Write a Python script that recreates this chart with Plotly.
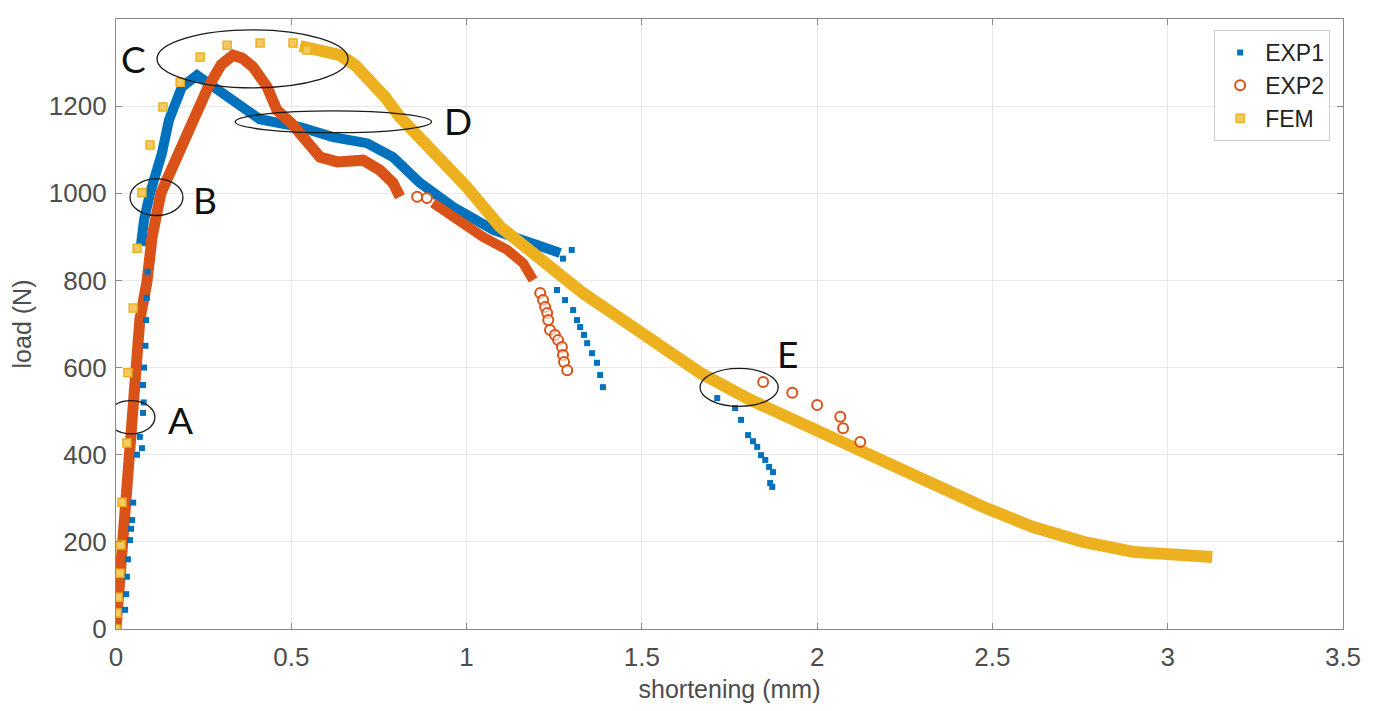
import plotly.graph_objects as go

# ---------------- data ----------------
# EXP1 - dense part (thick band of markers)
exp1_x = [0.071, 0.080, 0.097, 0.120, 0.131, 0.151, 0.188, 0.231, 0.280, 0.334, 0.410, 0.525,
          0.619, 0.716, 0.790, 0.867, 0.961, 1.076, 1.190, 1.240, 1.267]
exp1_y = [880, 939, 1000, 1053, 1092, 1168, 1244, 1271, 1245, 1210, 1170, 1152,
          1129, 1115, 1083, 1024, 969, 916, 886, 872, 863]
# EXP1 - sparse points
exp1_px = [0.026, 0.029, 0.031, 0.034, 0.040, 0.043, 0.046, 0.049, 0.060, 0.068, 0.074, 0.077,
           0.079, 0.077, 0.080, 0.084, 0.086, 0.088, 0.090,
           1.275, 1.300, 1.258, 1.281, 1.304, 1.315, 1.324, 1.335, 1.344, 1.358, 1.372, 1.381, 1.389,
           1.715, 1.766, 1.783, 1.803, 1.817, 1.829, 1.840, 1.852, 1.863, 1.874, 1.866, 1.872]
exp1_py = [44, 80, 120, 160, 204, 230, 250, 290, 400, 441, 415, 496,
           520, 560, 600, 650, 709, 760, 820,
           850, 870, 778, 755, 732, 709, 693, 675, 656, 633, 611, 583, 555,
           530, 507, 480, 445, 431, 418, 399, 388, 372, 360, 335, 326]

# EXP2 - dense parts
exp2_x1 = [0.000, 0.008, 0.017, 0.026, 0.036, 0.045, 0.053, 0.068, 0.088, 0.103, 0.128, 0.168,
           0.194, 0.231, 0.263, 0.300, 0.334, 0.360, 0.391, 0.431, 0.459, 0.500, 0.545, 0.582,
           0.631, 0.705, 0.753, 0.790, 0.810]
exp2_y1 = [0, 90, 181, 300, 420, 520, 610, 710, 795, 900, 1000, 1075,
           1129, 1190, 1244, 1295, 1317, 1310, 1290, 1244, 1191, 1161, 1120, 1083,
           1072, 1076, 1053, 1024, 992]
exp2_x2 = [0.904, 0.973, 1.047, 1.116, 1.161, 1.190]
exp2_y2 = [978, 939, 900, 870, 840, 801]
# EXP2 - sparse circles
exp2_px = [0.859, 0.887, 1.210, 1.218, 1.224, 1.230, 1.233, 1.238, 1.252, 1.261, 1.272, 1.275,
           1.278, 1.287, 1.846, 1.929, 2.000, 2.066, 2.074, 2.123]
exp2_py = [992, 989, 771, 755, 739, 725, 709, 686, 675, 663, 647, 629,
           613, 594, 567, 542, 514, 487, 461, 429]

# FEM - sparse squares (early part)
fem_px = [0.000, 0.003, 0.006, 0.011, 0.014, 0.017, 0.031, 0.034, 0.049, 0.060, 0.074, 0.097,
          0.134, 0.183, 0.240, 0.317, 0.411, 0.505, 0.545]
fem_py = [0, 37, 73, 128, 193, 291, 427, 588, 737, 874, 1001, 1111,
          1198, 1255, 1313, 1340, 1345, 1345, 1329]
# FEM - dense part
fem_x = [0.525, 0.582, 0.639, 0.682, 0.725, 0.767, 0.810, 0.904, 1.001, 1.096, 1.190, 1.332,
         1.429, 1.524, 1.666, 1.809, 1.951, 2.094, 2.237, 2.331, 2.474, 2.616, 2.759, 2.902,
         3.016, 3.127]
fem_y = [1338, 1329, 1317, 1294, 1260, 1221, 1175, 1099, 1014, 923, 863, 771,
         718, 663, 588, 526, 473, 418, 365, 326, 280, 234, 200, 177,
         168, 165]

# annotation ellipses: (label, x0, x1, y0, y1, label_x, label_y)
ellipses = [
    ("A", -0.026, 0.111, 448, 524, 0.185, 481),
    ("B", 0.040, 0.191, 949, 1033, 0.255, 985),
    ("C", 0.117, 0.662, 1242, 1375, 0.050, 1310),
    ("D", 0.340, 0.900, 1139, 1189, 0.975, 1168),
    ("E", 1.666, 1.889, 511, 598, 1.915, 632),
]

BLUE = "#0072BD"
RED = "#D95319"
YEL = "#EDB120"
FONT = "Liberation Sans, Arial, sans-serif"

fig = go.Figure()

# dense bands (no legend) - plotted in MATLAB order: EXP1, EXP2, FEM
fig.add_trace(go.Scatter(x=exp1_x, y=exp1_y, mode="lines", line=dict(color=BLUE, width=10),
                         showlegend=False, hoverinfo="skip"))
fig.add_trace(go.Scatter(x=exp2_x1, y=exp2_y1, mode="lines", line=dict(color=RED, width=11),
                         showlegend=False, hoverinfo="skip"))
fig.add_trace(go.Scatter(x=exp2_x2, y=exp2_y2, mode="lines", line=dict(color=RED, width=10),
                         showlegend=False, hoverinfo="skip"))
fig.add_trace(go.Scatter(x=fem_x, y=fem_y, mode="lines", line=dict(color=YEL, width=12),
                         showlegend=False, hoverinfo="skip"))

# sparse markers (legend)
fig.add_trace(go.Scatter(x=exp1_px, y=exp1_py, mode="markers", name="EXP1",
                         marker=dict(symbol="square", size=6, color=BLUE)))
fig.add_trace(go.Scatter(x=exp2_px, y=exp2_py, mode="markers", name="EXP2",
                         marker=dict(symbol="circle", size=10, color="rgba(255,255,255,0.6)",
                                     line=dict(color=RED, width=2))))
fig.add_trace(go.Scatter(x=fem_px, y=fem_py, mode="markers", name="FEM",
                         marker=dict(symbol="square", size=8, color="#F3CB62",
                                     line=dict(color=YEL, width=1.5))))

shapes = []
annotations = []
for lab, x0, x1, y0, y1, lx, ly in ellipses:
    shapes.append(dict(type="circle", xref="x", yref="y", x0=x0, x1=x1, y0=y0, y1=y1,
                       line=dict(color="#1a1a1a", width=1.3)))
    annotations.append(dict(x=lx, y=ly, xref="x", yref="y", text=lab, showarrow=False,
                            font=dict(family="Lato, Open Sans, sans-serif", size=37, color="#111")))

axis_common = dict(showline=True, linecolor="#8a8a8a", linewidth=1.2, mirror="ticks",
                   ticks="inside", ticklen=6, tickcolor="#8a8a8a", automargin=False,
                   showgrid=True, gridcolor="#e8e8e8", gridwidth=1, zeroline=False,
                   tickfont=dict(family=FONT, size=26, color="#4d4d4d"))

fig.update_layout(
    width=1358, height=695,
    margin=dict(l=108, r=23, t=11, b=74),
    paper_bgcolor="white", plot_bgcolor="white",
    shapes=shapes, annotations=annotations,
    xaxis=dict(range=[0, 3.5], dtick=0.5, tick0=0, ticklabelstandoff=5,
               title=dict(text="shortening (mm)", standoff=12,
                          font=dict(family=FONT, size=25, color="#4d4d4d")),
               **axis_common),
    yaxis=dict(range=[0, 1400], dtick=200, tick0=0, ticklabelstandoff=3,
               title=dict(text="load (N)", standoff=16,
                          font=dict(family=FONT, size=25, color="#4d4d4d")),
               **axis_common),
    legend=dict(x=0.895, y=0.982, xanchor="left", yanchor="top",
                bordercolor="#cfcfcf", borderwidth=1, bgcolor="white",
                font=dict(family=FONT, size=23, color="#222"),
                tracegroupgap=0, itemwidth=40),
    showlegend=True,
)

fig.write_html("out.html")
